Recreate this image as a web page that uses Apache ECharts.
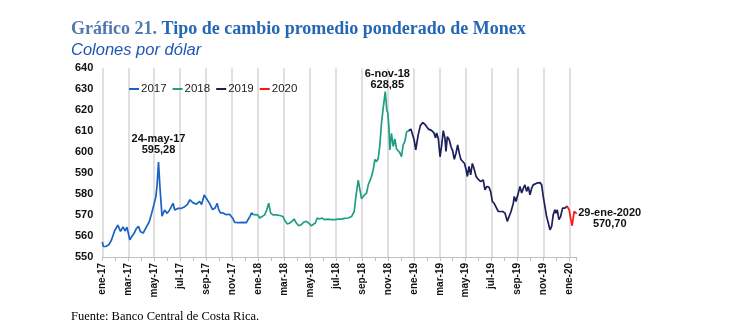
<!DOCTYPE html>
<html>
<head>
<meta charset="utf-8">
<script src="https://cdn.jsdelivr.net/npm/echarts@6/dist/echarts.min.js"></script>
<style>
html,body{margin:0;padding:0;background:#fff;}
#chart{width:747px;height:323px;}
</style>
</head>
<body>
<div id="chart"></div>
<script>
// x values: months elapsed since ene-17 (position along the date axis)
const tickLabels = ['ene-17','mar-17','may-17','jul-17','sep-17','nov-17','ene-18','mar-18','may-18','jul-18','sep-18','nov-18','ene-19','mar-19','may-19','jul-19','sep-19','nov-19','ene-20'];
const seriesNames = ['2017','2018','2019','2020'];

const t2017 = [0,0.08,0.3,0.5,0.7,0.95,1.2,1.4,1.6,1.75,1.9,2.12,2.25,2.45,2.62,2.78,2.95,3.15,3.4,3.62,3.8,3.97,4.13,4.23,4.33,4.45,4.6,4.8,5.0,5.2,5.45,5.58,5.85,6.1,6.35,6.55,6.75,7.0,7.25,7.5,7.65,7.85,8.0,8.25,8.5,8.7,8.85,8.95,9.1,9.3,9.55,9.8,10.05,10.2,10.5,10.8,11.1,11.25,11.38,11.5,11.63];
const v2017 = [557.2,555.0,555.1,555.8,558.0,562.5,565.2,562.2,564.4,562.4,564.2,558.2,559.5,561.3,563.5,564.6,562.0,561.4,564.4,566.8,570.8,574.8,578.8,585.0,595.28,582.5,569.5,572.4,570.8,572.6,575.6,572.4,573.2,573.2,574.0,575.0,577.3,575.8,575.2,576.5,575.0,579.6,578.1,575.7,572.6,573.5,575.6,573.0,571.0,571.0,570.2,570.4,568.5,566.5,566.4,566.5,566.4,568.1,569.4,571.0,570.2];

const t2018 = [11.63,11.76,11.97,12.13,12.31,12.51,12.67,12.82,12.97,13.15,13.41,13.67,13.92,14.1,14.26,14.44,14.62,14.77,14.95,15.13,15.33,15.54,15.72,15.9,16.1,16.23,16.41,16.56,16.74,16.92,17.13,17.38,17.64,17.9,18.15,18.41,18.67,18.95,19.2,19.41,19.54,19.72,19.85,19.97,20.18,20.36,20.49,20.62,20.74,20.87,21.0,21.13,21.26,21.38,21.51,21.64,21.8,21.92,22.0,22.08,22.15,22.28,22.41,22.54,22.67,22.79,22.92,23.05,23.18,23.31,23.44,23.6];
const v2018 = [570.2,571.0,570.1,568.6,569.3,570.1,572.5,575.7,570.9,570.1,570.1,569.8,569.3,567.0,565.7,566.2,567.0,568.1,566.2,564.9,565.4,566.7,567.0,566.2,564.9,564.3,566.2,568.6,568.1,568.6,567.8,568.1,567.8,567.8,568.1,568.1,568.4,568.6,569.3,571.7,578.9,586.7,582.0,577.8,579.5,580.5,584.4,584.0,588.4,591.5,596.5,595.5,597.1,603.0,613.8,621.0,628.85,620.1,618.6,612.2,601.1,609.0,602.7,606.3,601.5,601.9,599.8,597.9,603.5,605.1,609.6,610.2];

const t2019 = [23.6,23.77,23.91,24.02,24.15,24.33,24.51,24.7,24.9,25.12,25.36,25.55,25.68,25.76,25.89,26.02,26.15,26.27,26.4,26.48,26.58,26.73,26.86,27.0,27.12,27.25,27.38,27.51,27.63,27.78,27.91,28.03,28.13,28.25,28.38,28.51,28.63,28.8,28.97,29.15,29.35,29.48,29.61,29.79,29.92,30.05,30.2,30.35,30.51,30.64,30.85,31.03,31.2,31.33,31.49,31.67,31.74,31.87,32.05,32.18,32.31,32.44,32.56,32.69,32.82,32.95,33.08,33.2,33.33,33.46,33.59,33.72,33.85,33.97,34.1,34.23,34.36,34.49,34.62,34.74,34.87,34.95,35.05,35.18,35.31,35.46,35.64,35.8];
const v2019 = [610.2,611.0,610.2,606.0,601.1,608.0,612.8,614.1,613.0,611.0,610.4,609.2,606.8,609.2,606.4,597.8,603.5,610.3,606.6,600.3,607.4,605.9,602.7,600.5,596.6,599.5,603.5,599.3,596.5,596.0,594.6,591.6,588.4,593.2,589.2,594.6,592.4,588.4,587.0,586.0,586.8,582.0,583.6,583.3,581.2,576.5,575.5,574.9,571.7,570.9,571.7,570.9,567.0,567.8,571.7,575.7,578.9,576.5,580.5,583.6,580.5,582.8,584.4,581.3,583.6,579.7,582.8,584.4,583.6,585.2,584.4,585.5,584.4,578.9,574.1,569.3,566.2,563.0,564.6,570.1,572.5,570.9,572.5,567.8,569.3,573.3,573.3,574.3];

const t2020 = [35.8,35.86,35.97,36.1,36.2,36.28,36.36,36.47,36.55];
const v2020 = [574.3,574.9,572.5,567.8,564.9,568.6,571.7,570.9,570.7];

const annDates = ['24-may-17','6-nov-18','29-ene-2020'];
const annT = [4.33, 21.8, 36.55];
const annValues = [595.28, 628.85, 570.70];

const colors = ['#1A63C4','#1F9E82','#1B1F5A','#FF1414'];
const pair = (t, v) => t.slice(0, Math.min(t.length, v.length)).map((x, i) => [x, v[i]]);
const fmt = v => Number(v).toFixed(2).replace('.', ',');
const SANS = 'Liberation Sans, Arial, sans-serif';
const SERIF = 'Liberation Serif, Times New Roman, serif';

const annLabelBase = {show: true, fontFamily: SANS, fontWeight: 'bold', fontSize: 11, lineHeight: 11, color: '#111',
  formatter: p => p.name + '\n' + fmt(p.value)};
function mk(i, labelExtra) {
  return {
    symbol: 'circle', symbolSize: 1, itemStyle: {color: 'rgba(0,0,0,0)'},
    label: Object.assign({}, annLabelBase, labelExtra),
    data: [{name: annDates[i], coord: [annT[i], annValues[i]], value: annValues[i]}]
  };
}

const gridColors = tickLabels.map(() => '#D6D6D6').concat(['rgba(0,0,0,0)']);

const chart = echarts.init(document.getElementById('chart'), null, {renderer: 'canvas'});
chart.setOption({
  animation: false,
  backgroundColor: '#ffffff',
  title: [
    {left: 66, top: 15, text: '{a|Gráfico 21.} {b|Tipo de cambio promedio ponderado de Monex}',
      textStyle: {fontFamily: SERIF, fontWeight: 'bold', fontSize: 18,
        rich: {a: {fontFamily: SERIF, fontWeight: 'bold', fontSize: 18, color: '#5079B0'},
               b: {fontFamily: SERIF, fontWeight: 'bold', fontSize: 18, color: '#2667B5'}}}},
    {left: 66, top: 37, text: 'Colones por dólar',
      textStyle: {fontFamily: SANS, fontStyle: 'italic', fontWeight: 'normal', fontSize: 16.5, color: '#1F57B5'}},
    {left: 66, top: 305, text: 'Fuente: Banco Central de Costa Rica.',
      textStyle: {fontFamily: SERIF, fontWeight: 'normal', fontSize: 12.5, color: '#000'}}
  ],
  legend: {
    data: seriesNames, left: 124, top: 78, icon: 'rect', itemWidth: 10, itemHeight: 2, itemGap: 6,
    textStyle: {fontFamily: SANS, fontSize: 11.5, color: '#222', padding: [0, 0, 0, -3]}
  },
  grid: {left: 102.3, right: 170.3, top: 68.3, bottom: 66, containLabel: false},
  xAxis: {
    type: 'value', min: 0, max: 36.55, interval: 2,
    axisLine: {show: true, lineStyle: {color: '#BFBFBF', width: 1}},
    axisTick: {show: true, length: 4, lineStyle: {color: '#BFBFBF'}},
    minorTick: {show: true, splitNumber: 2, length: 4, lineStyle: {color: '#BFBFBF'}},
    splitLine: {show: true, lineStyle: {color: gridColors, width: 1.5}},
    axisLabel: {
      rotate: 90, margin: 6, fontFamily: SANS, fontWeight: 'bold', fontSize: 10, color: '#111',
      showMaxLabel: false,
      formatter: v => (Math.abs(v / 2 - Math.round(v / 2)) < 1e-6 && tickLabels[Math.round(v / 2)]) || ''
    }
  },
  yAxis: {
    type: 'value', min: 550, max: 640, interval: 10,
    axisLine: {show: false}, axisTick: {show: false}, splitLine: {show: false},
    axisLabel: {margin: 9, fontFamily: SANS, fontWeight: 'bold', fontSize: 11, color: '#111'}
  },
  series: [
    {name: seriesNames[0], type: 'line', data: pair(t2017, v2017), symbol: 'none', color: colors[0],
      lineStyle: {width: 1.7, color: colors[0]}, markPoint: mk(0, {position: 'top', distance: 6})},
    {name: seriesNames[1], type: 'line', data: pair(t2018, v2018), symbol: 'none', color: colors[1],
      lineStyle: {width: 1.7, color: colors[1]}, markPoint: mk(1, {position: 'top', distance: 1, offset: [2, 0]})},
    {name: seriesNames[2], type: 'line', data: pair(t2019, v2019), symbol: 'none', color: colors[2],
      lineStyle: {width: 1.7, color: colors[2]}},
    {name: seriesNames[3], type: 'line', data: pair(t2020, v2020), symbol: 'none', color: colors[3],
      lineStyle: {width: 1.7, color: colors[3]}, markPoint: mk(2, {position: 'inside', align: 'center', verticalAlign: 'middle', offset: [33, 5]})}
  ]
});
</script>
</body>
</html>
